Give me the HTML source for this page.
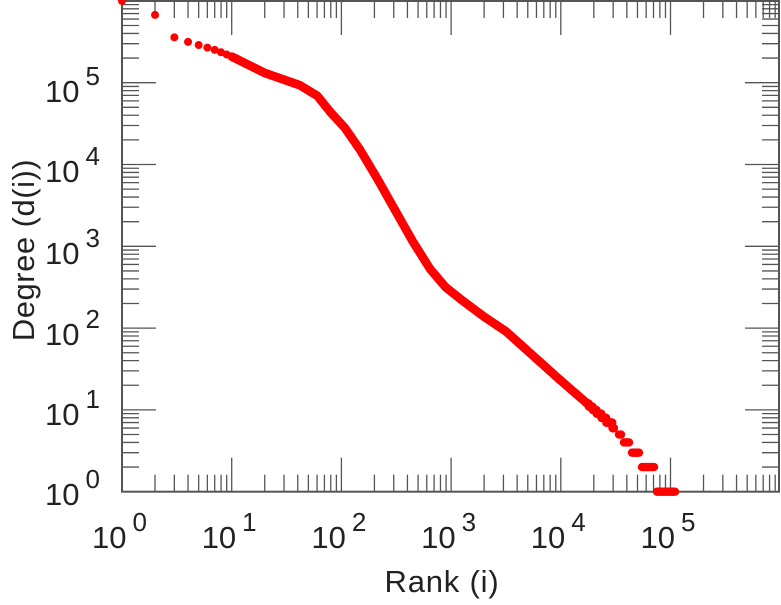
<!DOCTYPE html>
<html><head><meta charset="utf-8"><style>
body{margin:0;background:#fff;}
svg text{font-family:"Liberation Sans",sans-serif;fill:#222;}
</style></head><body>
<svg id="s" width="781" height="600" xmlns="http://www.w3.org/2000/svg">
<g id="ticks" stroke="#555" stroke-width="1.3"></g>
<rect x="122" y="1" width="657" height="490.7" fill="none" stroke="#555" stroke-width="2"/>
<g id="pts" fill="#ff0000"></g>
<g id="lab" font-size="31"></g>
<text x="442" y="592" font-size="31" text-anchor="middle" letter-spacing="0.8">Rank (i)</text>
<text transform="translate(34,250) rotate(-90)" font-size="31" text-anchor="middle" letter-spacing="0.5">Degree (d(i))</text>
</svg>
<script>
var NS="http://www.w3.org/2000/svg";
var X0=122,DX=109.7,Y0=491.7,DY=81.8,R=779,T=1;
function X(l){return X0+l*DX;} function Y(l){return Y0-l*DY;}
var tk=document.getElementById("ticks");
function ln(a,b,c,d){var e=document.createElementNS(NS,"line");e.setAttribute("x1",a);e.setAttribute("y1",b);e.setAttribute("x2",c);e.setAttribute("y2",d);tk.appendChild(e);}
for(var d=0;d<7;d++)for(var m=1;m<10;m++){var l=d+Math.log10(m);var x=X(l);if(x<X0||x>R)continue;var L=m==1?34:17;ln(x,Y0,x,Y0-L);ln(x,T,x,T+L);}
for(var d=0;d<7;d++)for(var m=1;m<10;m++){var l=d+Math.log10(m);var y=Y(l);if(y<T||y>Y0)continue;var L=m==1?34:17;ln(X0,y,X0+L,y);ln(R,y,R-L,y);}
var lab=document.getElementById("lab");
function lbl(x,y,s){var t=document.createElementNS(NS,"text");t.setAttribute("x",x);t.setAttribute("y",y);t.textContent="10";var sp=document.createElementNS(NS,"tspan");sp.setAttribute("font-size","26");sp.setAttribute("dy","-17");sp.setAttribute("dx","6");sp.textContent=s;t.appendChild(sp);lab.appendChild(t);}
for(var d=0;d<6;d++){lbl(X(d)-30,548,""+d);}
var yb=[505,425,345,264,182,102];
for(var d=0;d<6;d++){lbl(45,yb[d],""+d);}
var K=[[0,6.0],[0.3,5.83],[0.48,5.55],[0.6,5.5],[0.7,5.46],[0.85,5.4],[1,5.32],[1.3,5.12],[1.62,4.97],[1.78,4.84],[1.9,4.64],[2.03,4.45],[2.17,4.18],[2.33,3.82],[2.49,3.44],[2.65,3.06],[2.81,2.72],[2.95,2.5],[3.1,2.34],[3.3,2.14],[3.5,1.96],[3.99,1.37],[4.48,0.8]];
function f(l){for(var i=0;i<K.length-1;i++){if(l<=K[i+1][0]){var t=(l-K[i][0])/(K[i+1][0]-K[i][0]);return K[i][1]+t*(K[i+1][1]-K[i][1]);}}return K[K.length-1][1];}
var g=document.getElementById("pts");
function dot(x,y,r){var c=document.createElementNS(NS,"circle");c.setAttribute("cx",x);c.setAttribute("cy",y);c.setAttribute("r",r||4);g.appendChild(c);}
[1,2,3,4,5,6,7,8,9].forEach(function(r){var l=Math.log10(r);dot(X(l),Y(f(l)),4);});
for(var l=1;l<=4.48;l+=0.004){var v=f(l);var dv=Math.pow(10,v);if(dv<12){dv=Math.max(1,Math.round(dv));v=Math.log10(dv);}dot(X(l),Y(v),4.3);}
var bands=[[6,610,618],[5,615,625],[4,620,633],[3,628,643],[2,638,658],[1,653,679]];
bands.forEach(function(b){for(var x=b[1]+4;x<=b[2]-4;x+=1)dot(x,Y(Math.log10(b[0])),4.2);});
</script>
</body></html>
